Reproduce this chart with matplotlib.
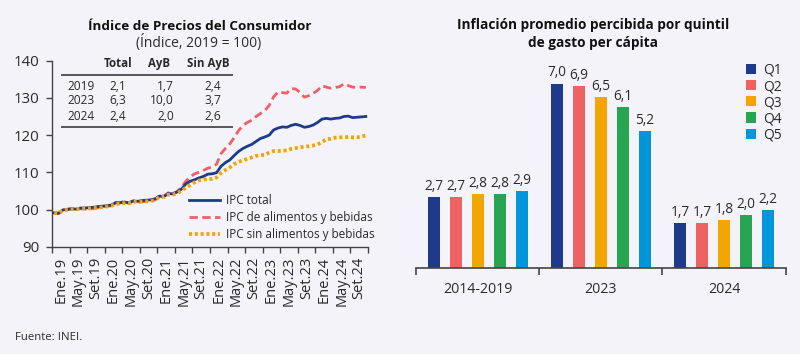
import matplotlib
matplotlib.use("Agg")
import matplotlib.pyplot as plt
from matplotlib.lines import Line2D
from matplotlib.patches import Patch
import numpy as np

plt.rcParams['font.family'] = ['Open Sans', 'DejaVu Sans']

# ---------------- data ----------------
month_abbr = ['Ene', 'May', 'Set']
years = ['19', '20', '21', '22', '23', '24']
tick_labels = [f"{m}.{y}" for y in years for m in month_abbr]

ipc_total = [
    99.1, 99.0, 99.9, 100.0, 100.2, 100.1, 100.4, 100.4, 100.5, 100.6, 100.8, 100.9,
    101.0, 101.2, 101.8, 101.8, 102.0, 101.8, 102.3, 102.2, 102.4, 102.5, 102.6, 102.9,
    103.6, 103.5, 104.3, 104.2, 104.7, 105.5, 106.9, 107.6, 108.0, 108.5, 108.9, 109.5,
    109.6, 109.9, 111.6, 112.6, 113.3, 114.5, 115.6, 116.4, 117.0, 117.5, 118.3, 119.1,
    119.5, 120.0, 121.4, 121.9, 122.2, 122.1, 122.6, 122.9, 122.6, 122.1, 122.3, 122.7,
    123.4, 124.3, 124.5, 124.3, 124.5, 124.6, 125.0, 125.1, 124.7, 124.8, 124.9, 125.0,
]
ipc_ayb = [
    99.0, 98.9, 99.8, 100.1, 100.3, 100.0, 100.2, 100.1, 100.1, 100.3, 100.5, 100.8,
    100.9, 101.0, 101.9, 101.8, 102.3, 101.6, 102.3, 101.9, 102.1, 102.2, 102.3, 102.6,
    103.8, 103.6, 104.5, 104.3, 104.8, 106.0, 107.6, 108.8, 109.6, 110.0, 110.5, 111.1,
    111.4, 112.2, 115.0, 116.4, 117.6, 119.3, 121.2, 122.6, 123.4, 124.0, 125.0, 125.8,
    126.6, 128.0, 130.3, 131.6, 131.4, 131.3, 132.5, 132.4, 131.5, 130.2, 130.6, 131.2,
    132.0, 133.3, 132.9, 132.6, 132.8, 133.0, 133.8, 133.3, 132.9, 132.8, 132.9, 132.8,
]
ipc_sin_ayb = [
    99.1, 99.0, 99.8, 99.9, 100.1, 100.1, 100.3, 100.3, 100.3, 100.4, 100.5, 100.6,
    100.8, 101.0, 101.5, 101.6, 101.7, 101.7, 102.1, 102.1, 102.1, 102.2, 102.2, 102.6,
    103.4, 103.4, 104.0, 104.0, 104.4, 105.0, 105.9, 106.6, 107.3, 107.8, 108.0, 108.3,
    108.2, 108.6, 109.8, 110.6, 111.3, 112.2, 112.8, 113.2, 113.6, 114.0, 114.4, 114.6,
    114.7, 115.3, 115.7, 115.7, 115.8, 115.9, 116.3, 116.5, 116.7, 116.9, 117.0, 117.2,
    117.5, 118.1, 118.9, 119.0, 119.3, 119.4, 119.4, 119.5, 119.4, 119.4, 119.6, 119.9,
]
series_names = ['IPC total', 'IPC de alimentos y bebidas', 'IPC sin alimentos y bebidas']

table_header = ['Total', 'AyB', 'Sin AyB']
table_years = ['2019', '2023', '2024']
table_total = [2.1, 6.3, 2.4]
table_ayb = [1.7, 10.0, 2.0]
table_sin = [2.4, 3.7, 2.6]

groups = ['2014-2019', '2023', '2024']
quintiles = ['Q1', 'Q2', 'Q3', 'Q4', 'Q5']
q1 = [2.7, 7.0, 1.7]
q2 = [2.7, 6.9, 1.7]
q3 = [2.8, 6.5, 1.8]
q4 = [2.8, 6.1, 2.0]
q5 = [2.9, 5.2, 2.2]

# ---------------- style ----------------
W, H = 800, 354
BG = '#F3F3F9'
TXT = '#2a2a2a'
AX = '#444444'
c_total = '#1E3A8A'
c_ayb = '#EE5F66'
c_sin = '#F5A300'
q_colors = ['#1E3A8A', '#EE6262', '#F5A500', '#27A552', '#0096DB']

def fx(x):
    return x / W

def fy(y):
    return 1 - y / H

def fmt(v):
    return f"{v:.1f}".replace('.', ',')

fig = plt.figure(figsize=(8, 3.54), dpi=100, facecolor=BG)

# ---------------- left chart ----------------
ax = fig.add_axes([fx(52), fy(246.7), fx(368) - fx(52), fy(60.7) - fy(246.7)])
ax.set_facecolor(BG)
x = np.arange(len(ipc_total))
ax.plot(x, ipc_total, color=c_total, lw=2.0, label=series_names[0], zorder=3)
ax.plot(x, ipc_ayb, color=c_ayb, lw=2.0, dashes=(3.0, 1.6), label=series_names[1], zorder=2)
ax.plot(x, ipc_sin_ayb, color=c_sin, lw=2.7, dashes=(0.8, 0.75), label=series_names[2], zorder=4)
ax.set_xlim(-0.5, len(x) - 0.5)
ax.set_ylim(90, 140)
ax.set_yticks([90, 100, 110, 120, 130, 140])
ax.set_xticks(np.arange(-0.5, len(x), 4))
ax.set_xticklabels([])
ax.set_xticks(np.arange(1.5, len(x), 4), minor=True)
ax.set_xticklabels(tick_labels, minor=True, rotation=90, fontsize=10.5, color=TXT)
ax.tick_params(axis='x', which='minor', length=0, pad=7)
ax.tick_params(axis='x', which='major', length=4, width=1, color=AX, direction='out')
ax.tick_params(axis='y', length=4, width=1, color=AX, labelsize=10.8, labelcolor=TXT, pad=5)
for s in ['top', 'right']:
    ax.spines[s].set_visible(False)
for s in ['left', 'bottom']:
    ax.spines[s].set_color(AX)
    ax.spines[s].set_linewidth(1.0)

leg = ax.legend(loc='upper left', bbox_to_anchor=(fx(189), fy(194)),
                bbox_transform=fig.transFigure, frameon=False, fontsize=8.5,
                handlelength=2.6, handletextpad=0.55, labelspacing=0.36,
                borderaxespad=0, borderpad=0)
for t in leg.get_texts():
    t.set_color(TXT)

fig.text(fx(200), fy(26), 'Índice de Precios del Consumidor', ha='center', va='center',
         fontsize=9.7, fontweight='bold', color='#111111')
fig.text(fx(199), fy(43), '(Índice, 2019 = 100)', ha='center', va='center',
         fontsize=10, color=TXT)

# table
hdr_y = 63.5
fig.text(fx(132), fy(hdr_y), table_header[0], ha='right', va='center', fontsize=8.3,
         fontweight='bold', color=TXT)
fig.text(fx(170), fy(hdr_y), table_header[1], ha='right', va='center', fontsize=8.3,
         fontweight='bold', color=TXT)
fig.text(fx(230), fy(hdr_y), table_header[2], ha='right', va='center', fontsize=8.3,
         fontweight='bold', color=TXT)
row_y = [86, 101, 116]
for i, yr in enumerate(table_years):
    fig.text(fx(67), fy(row_y[i]), yr, ha='left', va='center', fontsize=8.6, color=TXT)
    fig.text(fx(126), fy(row_y[i]), fmt(table_total[i]), ha='right', va='center', fontsize=8.6, color=TXT)
    fig.text(fx(174), fy(row_y[i]), fmt(table_ayb[i]), ha='right', va='center', fontsize=8.6, color=TXT)
    fig.text(fx(221), fy(row_y[i]), fmt(table_sin[i]), ha='right', va='center', fontsize=8.6, color=TXT)
for yy in [74.5, 127]:
    fig.add_artist(Line2D([fx(62), fx(232)], [fy(yy), fy(yy)], color='#555555', lw=1.4,
                          transform=fig.transFigure))

fig.text(fx(15), fy(337), 'Fuente: INEI.', ha='left', va='center', fontsize=8.2, color=TXT)

# ---------------- right chart ----------------
base_y = 267.7
px_per_unit = 26.3
ymax = 8.0
bx = fig.add_axes([fx(416), fy(base_y), fx(785.7) - fx(416), (ymax * px_per_unit) / H])
bx.set_facecolor('none')
bx.patch.set_alpha(0)
series = [q1, q2, q3, q4, q5]
gx = np.arange(len(groups))
step = 22 / 123.3
bw = 12 / 123.3
for k, (vals, col, name) in enumerate(zip(series, q_colors, quintiles)):
    xpos = gx + (k - 2) * step
    bars = bx.bar(xpos, vals, width=bw, color=col, label=name, zorder=2)
    for xp, v in zip(xpos, vals):
        bx.text(xp, v + 0.12, fmt(v), ha='center', va='bottom', fontsize=9.8, color=TXT)
bx.set_xlim(-0.5, len(groups) - 0.5)
bx.set_ylim(0, ymax)
bx.set_yticks([])
for s in ['top', 'right', 'left']:
    bx.spines[s].set_visible(False)
bx.spines['bottom'].set_color(AX)
bx.spines['bottom'].set_linewidth(1.2)
bx.set_xticks(np.arange(-0.5, len(groups), 1.0))
bx.set_xticklabels([])
bx.set_xticks(gx, minor=True)
bx.set_xticklabels(groups, minor=True, fontsize=10.2, color=TXT)
bx.tick_params(axis='x', which='major', length=5, width=1.2, color=AX, direction='out')
bx.tick_params(axis='x', which='minor', length=0, pad=10)

handles = [Patch(facecolor=c, edgecolor='none') for c in q_colors]
lg2 = fig.legend(handles, quintiles, loc='upper left', bbox_to_anchor=(fx(746), fy(63)),
                 frameon=False, fontsize=10, handlelength=0.75, handleheight=0.75,
                 handletextpad=0.5, labelspacing=0.08, borderaxespad=0, borderpad=0)
for t in lg2.get_texts():
    t.set_color(TXT)

fig.text(fx(593), fy(25), 'Inflación promedio percibida por quintil', ha='center', va='center',
         fontsize=9.8, fontweight='bold', color='#111111')
fig.text(fx(593), fy(43), 'de gasto per cápita', ha='center', va='center',
         fontsize=9.8, fontweight='bold', color='#111111')

fig.savefig('out.png', dpi=100, facecolor=BG)
